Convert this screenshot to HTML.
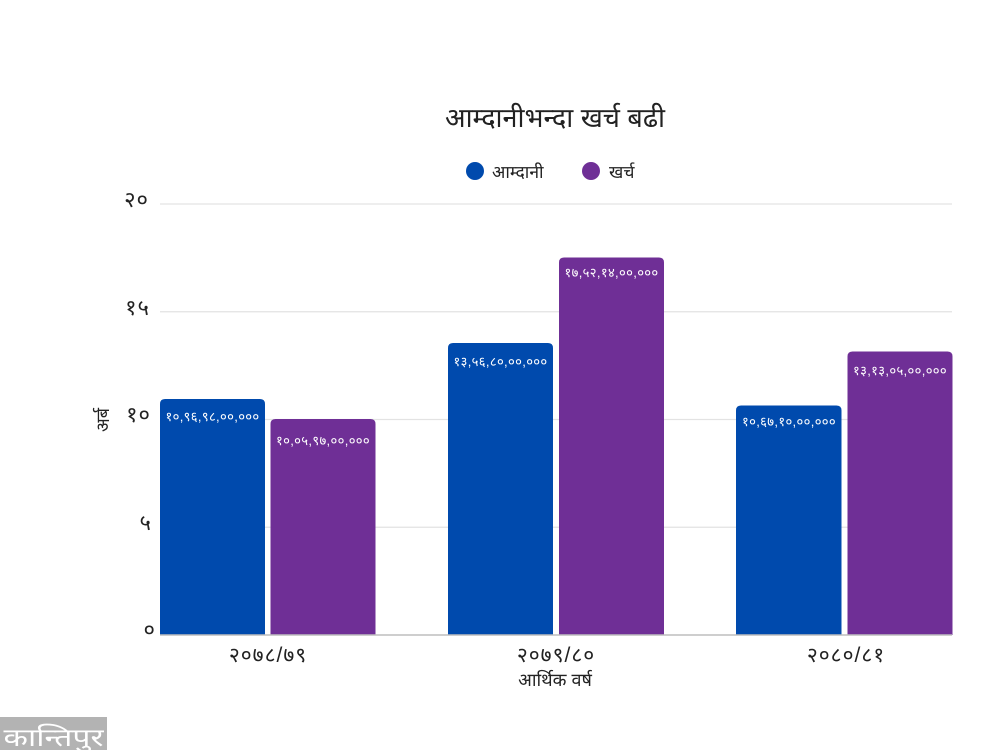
<!DOCTYPE html>
<html>
<head>
<meta charset="utf-8">
<style>
html,body{margin:0;padding:0;background:#fff;}
body{width:1000px;height:750px;overflow:hidden;}
svg text{font-family:"Liberation Sans","DejaVu Sans","Noto Sans CJK SC",sans-serif;}
</style>
</head>
<body>
<svg width="1000" height="750" viewBox="0 0 1000 750" xmlns="http://www.w3.org/2000/svg">
  <rect x="0" y="0" width="1000" height="750" fill="#ffffff"/>
  <!-- title -->
  <text x="555" y="127" font-size="27" text-anchor="middle" fill="#222">आम्दानीभन्दा खर्च बढी</text>
  <!-- legend -->
  <circle cx="475" cy="171" r="9" fill="#004AAD"/>
  <text x="492" y="178" font-size="17.5" fill="#222">आम्दानी</text>
  <circle cx="591" cy="171" r="9" fill="#6F2F96"/>
  <text x="609" y="178" font-size="17.5" fill="#222">खर्च</text>
  <!-- gridlines -->
  <g stroke="#e3e3e3" stroke-width="1.2">
    <line x1="160" y1="204" x2="952" y2="204"/>
    <line x1="160" y1="311.75" x2="952" y2="311.75"/>
    <line x1="160" y1="419.5" x2="952" y2="419.5"/>
    <line x1="160" y1="527.25" x2="952" y2="527.25"/>
  </g>
  <!-- y tick labels -->
  <g font-size="22" fill="#222" text-anchor="end" letter-spacing="1">
    <text x="149" y="207">२०</text>
    <text x="150" y="315">१५</text>
    <text x="151" y="422">१०</text>
    <text x="152" y="530">५</text>
    <text x="156" y="637">०</text>
  </g>
  <!-- y axis title -->
  <text x="0" y="0" font-size="18" fill="#222" text-anchor="middle" transform="translate(109,420) rotate(-90)">अर्ब</text>
  <!-- bars -->
  <g>
    <path d="M160,635 V404 Q160,399 165,399 H260 Q265,399 265,404 V635 Z" fill="#004AAD"/>
    <path d="M270.5,635 V424 Q270.5,419 275.5,419 H370.5 Q375.5,419 375.5,424 V635 Z" fill="#6F2F96"/>
    <path d="M448,635 V348 Q448,343 453,343 H548 Q553,343 553,348 V635 Z" fill="#004AAD"/>
    <path d="M559,635 V262.5 Q559,257.5 564,257.5 H659 Q664,257.5 664,262.5 V635 Z" fill="#6F2F96"/>
    <path d="M736,635 V410.5 Q736,405.5 741,405.5 H836.5 Q841.5,405.5 841.5,410.5 V635 Z" fill="#004AAD"/>
    <path d="M847.5,635 V356.5 Q847.5,351.5 852.5,351.5 H947.5 Q952.5,351.5 952.5,356.5 V635 Z" fill="#6F2F96"/>
  </g>
  <!-- bar labels -->
  <g font-size="13" fill="#ffffff" text-anchor="middle" letter-spacing="0.35">
    <text x="212.5" y="421">१०,९६,९८,००,०००</text>
    <text x="323" y="445">१०,०५,९७,००,०००</text>
    <text x="500.5" y="366">१३,५६,८०,००,०००</text>
    <text x="611.5" y="277">१७,५२,१४,००,०००</text>
    <text x="789" y="426">१०,६७,१०,००,०००</text>
    <text x="900" y="375">१३,१३,०५,००,०००</text>
  </g>
  <!-- baseline -->
  <line x1="160" y1="635" x2="952" y2="635" stroke="#bdbdbd" stroke-width="1.5"/>
  <!-- x labels -->
  <g font-size="21" fill="#222" text-anchor="middle" letter-spacing="1">
    <text x="268" y="662">२०७८/७९</text>
    <text x="556" y="662">२०७९/८०</text>
    <text x="846" y="662">२०८०/८१</text>
  </g>
  <text x="555" y="686" font-size="18" fill="#222" text-anchor="middle">आर्थिक वर्ष</text>
  <!-- logo -->
  <rect x="0" y="717" width="107" height="33" fill="#b3b3b3"/>
  <text x="53.5" y="746" font-size="25" fill="#ffffff" text-anchor="middle" textLength="100" lengthAdjust="spacingAndGlyphs">कान्तिपुर</text>
</svg>
</body>
</html>
